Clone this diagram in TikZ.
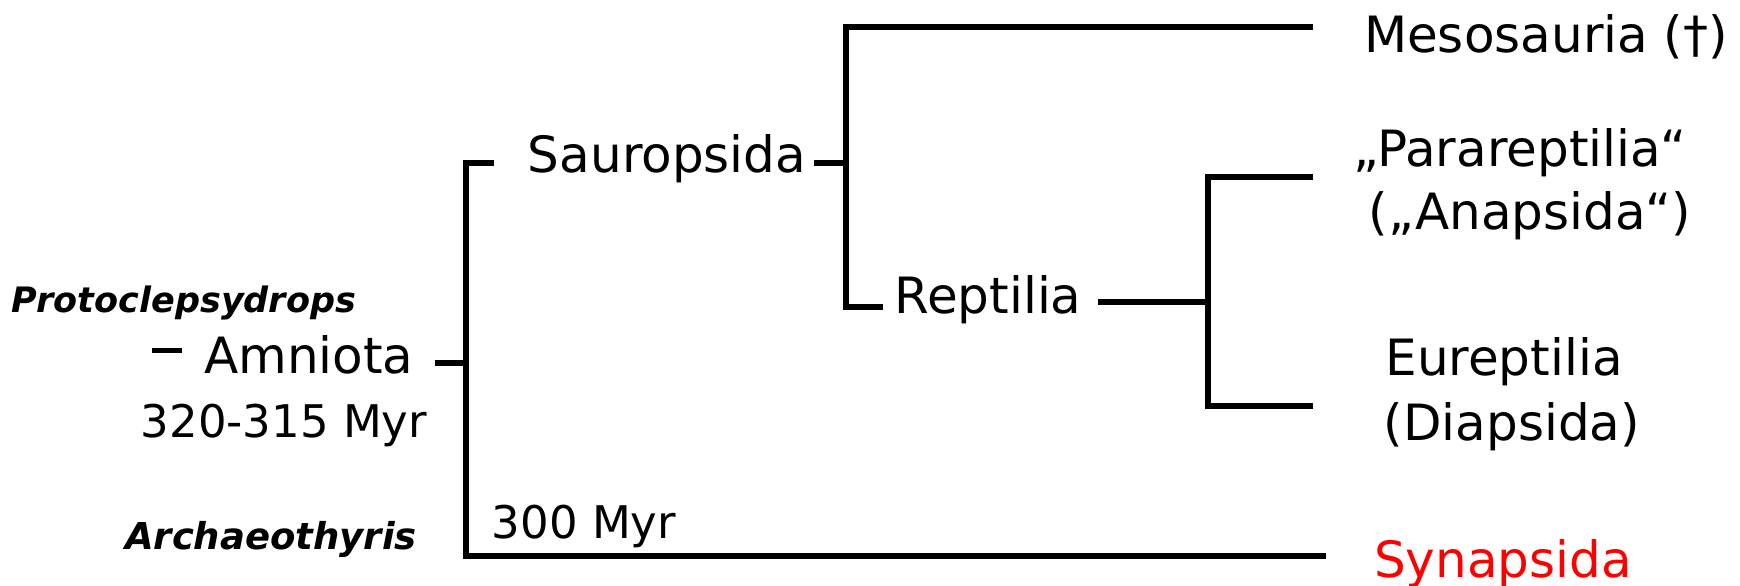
\documentclass[tikz,border=0pt]{standalone}
\usepackage{fontspec}
\setmainfont{DejaVu Sans}
\definecolor{synred}{RGB}{255,0,0}
\tikzset{
  branch/.style={line width=6.5pt, line cap=butt, line join=miter},
  lbl/.style={inner sep=0pt, anchor=base, font=\fontsize{50}{60}\selectfont},
  agelbl/.style={lbl, font=\fontsize{45}{54}\selectfont},
  fossil/.style={lbl, font=\fontsize{35}{42}\selectfont\bfseries\itshape},
}
\begin{document}
\begin{tikzpicture}[x=1pt,y=-1pt]
  \fill[white] (0,0) rectangle (1740,586);
  \useasboundingbox (0,0) rectangle (1740,586);

  % text nodes
  \node[lbl] (meso) at (1546,53) {Mesosauria (†)};
  \node[lbl] (para1) at (1520,166) {„Parareptilia“};
  \node[lbl] (para2) at (1530,229) {(„Anapsida“)};
  \node[lbl] (eur1) at (1504,375) {Eureptilia};
  \node[lbl] (eur2) at (1512,440) {(Diapsida)};
  \node[lbl, text=synred] (syn) at (1503,577) {Synapsida};
  \node[lbl] (saur) at (667,172) {Sauropsida};
  \node[lbl] (rept) at (988,313) {Reptilia};
  \node[lbl, anchor=base west] (amn) at (152,373) {\rule[0.4em]{30pt}{5pt}\hspace{22pt}Amniota};
  \node[agelbl] (age1) at (284,437) {320-315 Myr};
  \node[agelbl] (age2) at (584,538) {300 Myr};
  \node[fossil] (proto) at (184,312) {Protoclepsydrops};
  \node[fossil, font=\fontsize{37}{44}\selectfont\bfseries\itshape] (arch) at (271,549) {Archaeothyris};

  % branch points and free ends
  \coordinate (nA) at (466,363);
  \coordinate (amS) at (435,363);
  \coordinate (sauL) at (494,163);
  \coordinate (sauR) at (814,163);
  \coordinate (nS) at (846,163);
  \coordinate (mesoE) at (1313,27);
  \coordinate (repL) at (883,307);
  \coordinate (repR) at (1098,302);
  \coordinate (nR) at (1208,302);
  \coordinate (paraE) at (1313,177);
  \coordinate (eurE) at (1313,406);
  \coordinate (synE) at (1326,556);

  % connectors
  \draw[branch] (amS) -- (nA);
  \draw[branch] (sauL) -| (nA |- synE) -- (synE);
  \draw[branch] (sauR) -- (nS);
  \draw[branch] (mesoE) -| (nS |- repL) -- (repL);
  \draw[branch] (repR) -- (nR);
  \draw[branch] (paraE) -| (nR |- eurE) -- (eurE);
\end{tikzpicture}
\end{document}
